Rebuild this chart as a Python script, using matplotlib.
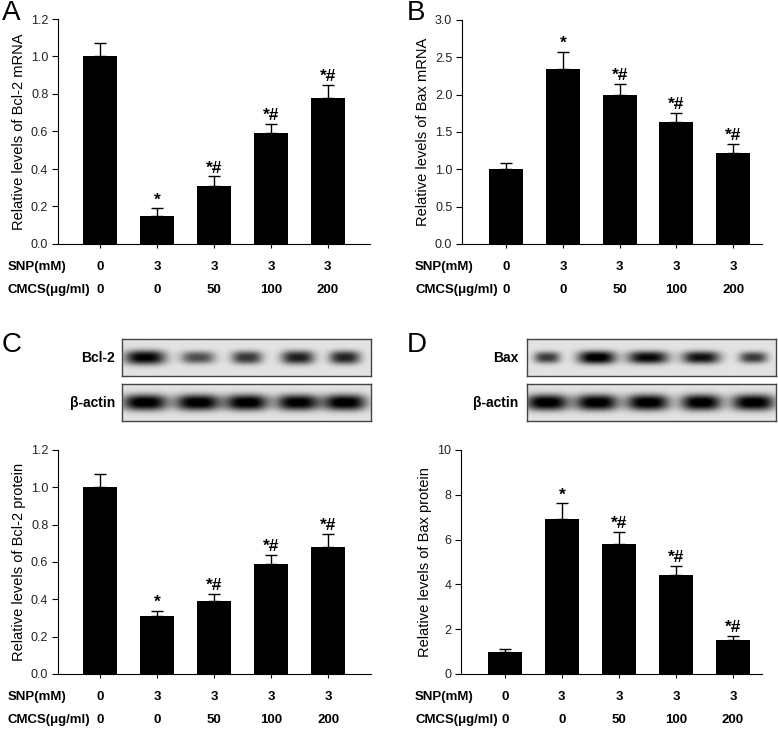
import numpy as np
import matplotlib
matplotlib.use("Agg")
import matplotlib.pyplot as plt

plt.rcParams['font.family'] = ['Liberation Sans', 'DejaVu Sans']

W, H = 778, 730

snp = ["0", "3", "3", "3", "3"]
cmcs = ["0", "0", "50", "100", "200"]
marks = ["", "*", "*#", "*#", "*#"]

bcl2_mrna = [1.00, 0.15, 0.31, 0.59, 0.78]
bcl2_mrna_err = [0.07, 0.04, 0.05, 0.05, 0.07]
bax_mrna = [1.00, 2.34, 1.99, 1.64, 1.22]
bax_mrna_err = [0.09, 0.23, 0.15, 0.12, 0.12]
bcl2_prot = [1.00, 0.31, 0.39, 0.59, 0.68]
bcl2_prot_err = [0.07, 0.03, 0.04, 0.05, 0.07]
bax_prot = [1.00, 6.90, 5.80, 4.40, 1.50]
bax_prot_err = [0.13, 0.72, 0.53, 0.43, 0.20]

# western blot bands: lane centre (fraction of strip), width (fraction), darkness
c_lanes = [0.092, 0.305, 0.502, 0.707, 0.896]
c_bcl2_w = [0.082, 0.068, 0.062, 0.066, 0.062]
c_bcl2_i = [0.95, 0.62, 0.72, 0.82, 0.80]
c_actin_w = [0.090, 0.090, 0.086, 0.086, 0.086]
c_actin_i = [1.0, 1.0, 1.0, 0.98, 1.0]
d_lanes = [0.080, 0.280, 0.486, 0.700, 0.910]
d_bax_w = [0.052, 0.076, 0.082, 0.076, 0.056]
d_bax_i = [0.70, 1.0, 0.92, 0.88, 0.70]
d_actin_w = [0.086, 0.086, 0.086, 0.082, 0.086]
d_actin_i = [1.0, 1.0, 1.0, 1.0, 1.0]


def px_axes(l, t, r, b):
    return plt.gcf().add_axes([l / W, 1 - b / H, (r - l) / W, (b - t) / H])


def bar_panel(l, t, r, b, vals, errs, ylim, yticks, fmt, ylabel, xlim, lab_x, lab_px):
    ax = px_axes(l, t, r, b)
    x = np.arange(len(vals))
    ax.bar(x, vals, width=0.6, color='black', zorder=2)
    ax.errorbar(x, vals, yerr=[np.zeros(len(errs)), errs], fmt='none',
                ecolor='black', elinewidth=1, capsize=4.5, capthick=1, zorder=1)
    span = ylim[1] - ylim[0]
    for xi, v, e, m in zip(x, vals, errs, marks):
        if m:
            ax.text(xi, v + e + span * 0.004, m, ha='center', va='bottom',
                    fontsize=12.5, fontweight='bold')
    ax.set_xlim(*xlim)
    ax.set_ylim(*ylim)
    ax.set_yticks(yticks)
    ax.set_yticklabels([fmt.format(v) for v in yticks], fontsize=9, color='#222')
    ax.set_xticks(x)
    ax.set_xticklabels([])
    ax.tick_params(axis='y', direction='out', length=4, width=0.8, pad=3)
    ax.tick_params(axis='x', direction='out', length=3, width=0.8)
    for s in ['top', 'right']:
        ax.spines[s].set_visible(False)
    for s in ['left', 'bottom']:
        ax.spines[s].set_linewidth(0.8)
    ax.set_ylabel(ylabel, fontsize=10.5)
    ax.yaxis.set_label_coords((lab_px - l) / (r - l), 0.5)
    tr = ax.get_xaxis_transform()
    r1 = -23 / (b - t)
    r2 = -46 / (b - t)
    for xi, s1, s2 in zip(x, snp, cmcs):
        ax.text(xi, r1, s1, transform=tr, ha='center', va='center',
                fontsize=9.5, fontweight='bold')
        ax.text(xi, r2, s2, transform=tr, ha='center', va='center',
                fontsize=9.5, fontweight='bold')
    ax.text((lab_x - l) / (r - l), r1, "SNP(mM)", transform=ax.transAxes,
            ha='left', va='center', fontsize=9.5, fontweight='bold')
    ax.text((lab_x - l) / (r - l), r2, "CMCS(μg/ml)", transform=ax.transAxes,
            ha='left', va='center', fontsize=9.5, fontweight='bold')
    return ax


def blot(l, t, r, b, lanes, widths, dark, thick, name, name_x):
    ax = px_axes(l, t, r, b)
    xs = np.linspace(0, 1, 400)
    ys = np.linspace(0, 1, 80)
    X, Y = np.meshgrid(xs, ys)
    img = np.full(X.shape, 0.89)
    for c, w, d in zip(lanes, widths, dark):
        band = np.exp(-np.abs((X - c) / w) ** 3) * np.exp(-np.abs((Y - 0.5) / (thick * (0.6 + 0.4 * d))) ** 2.5)
        img -= 0.95 * d * band
    img = np.clip(img, 0, 1)
    ax.imshow(img, cmap='gray', vmin=0, vmax=1, extent=[0, 1, 0, 1],
              aspect='auto', interpolation='bilinear')
    ax.set_xticks([])
    ax.set_yticks([])
    for s in ax.spines.values():
        s.set_color('#444')
        s.set_linewidth(1)
    plt.gcf().text(name_x / W, 1 - (t + b) / 2 / H, name, ha='right', va='center',
                   fontsize=10, fontweight='bold')
    return ax


fig = plt.figure(figsize=(W / 100, H / 100), dpi=100)

bar_panel(58, 19, 370, 244, bcl2_mrna, bcl2_mrna_err, (0, 1.2),
          [0, 0.2, 0.4, 0.6, 0.8, 1.0, 1.2], "{:.1f}",
          "Relative levels of Bcl-2 mRNA", (-0.74, 4.74), 8, 26)
bar_panel(462, 20, 762, 244, bax_mrna, bax_mrna_err, (0, 3.0),
          [0, 0.5, 1.0, 1.5, 2.0, 2.5, 3.0], "{:.1f}",
          "Relative levels of Bax mRNA", (-0.78, 4.51), 415, 430)
bar_panel(58, 450, 371, 674, bcl2_prot, bcl2_prot_err, (0, 1.2),
          [0, 0.2, 0.4, 0.6, 0.8, 1.0, 1.2], "{:.1f}",
          "Relative levels of Bcl-2 protein", (-0.74, 4.75), 8, 26)
bar_panel(461, 450, 762, 674, bax_prot, bax_prot_err, (0, 10),
          [0, 2, 4, 6, 8, 10], "{:.0f}",
          "Relative levels of Bax protein", (-0.77, 4.51), 415, 432)

blot(122, 339, 371, 376, c_lanes, c_bcl2_w, c_bcl2_i, 0.2, "Bcl-2", 115)
blot(122, 384, 371, 421, c_lanes, c_actin_w, c_actin_i, 0.22, "β-actin", 115)
blot(527, 339, 776, 376, d_lanes, d_bax_w, d_bax_i, 0.18, "Bax", 518)
blot(527, 384, 776, 421, d_lanes, d_actin_w, d_actin_i, 0.22, "β-actin", 518)

for letter, x, y in [("A", 2, 13), ("B", 407, 13), ("C", 2, 345), ("D", 407, 345)]:
    fig.text(x / W, 1 - y / H, letter, ha='left', va='center', fontsize=20)

fig.savefig("out.png", dpi=100)
